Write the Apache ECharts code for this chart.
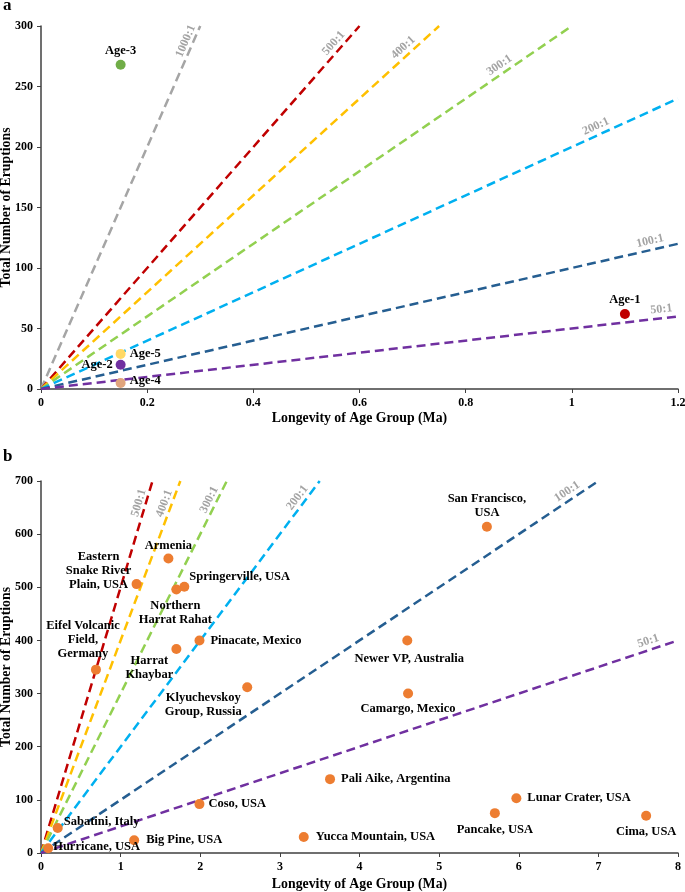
<!DOCTYPE html>
<html>
<head>
<meta charset="utf-8">
<script src="https://cdn.jsdelivr.net/npm/echarts@6/dist/echarts.min.js"></script>
<style>
  html, body { margin: 0; padding: 0; background: #fff; }
  #main { width: 685px; height: 892px; }
</style>
</head>
<body>
<div id="main"></div>
<script>
// ---- data ----
var ratiosA = [1000, 500, 400, 300, 200, 100, 50];
var ratioEndA = [0.3, 0.6, 0.75, 1.0, 1.2, 1.2, 1.2];
var ratiosB = [500, 400, 300, 200, 100, 50];
var ratioEndB = [1.4, 1.75, 2.333, 3.5, 7, 8];

var ageNames = ["Age-1", "Age-2", "Age-3", "Age-4", "Age-5"];
var ageLongevity = [1.1, 0.15, 0.15, 0.15, 0.15];
var ageEruptions = [62, 20, 268, 5, 29];

var fieldNames = [
  "Armenia", "Eastern\nSnake River\nPlain, USA", "Springerville, USA",
  "Northern\nHarrat Rahat", "Pinacate, Mexico", "Harrat\nKhaybar",
  "Eifel Volcanic\nField,\nGermany", "Klyuchevskoy\nGroup, Russia",
  "Sabatini, Italy", "Hurricane, USA", "Big Pine, USA", "Coso, USA",
  "Yucca Mountain, USA", "Pali Aike, Argentina", "San Francisco,\nUSA",
  "Newer VP, Australia", "Camargo, Mexico", "Lunar Crater, USA",
  "Pancake, USA", "Cima, USA"
];
var fieldLongevity = [1.6, 1.2, 1.8, 1.7, 1.99, 1.7, 0.69, 2.59, 0.21, 0.09,
  1.17, 1.99, 3.3, 3.63, 5.6, 4.6, 4.61, 5.97, 5.7, 7.6];
var fieldEruptions = [554, 506, 501, 496, 400, 384, 345, 312, 47, 9,
  24, 92, 30, 139, 614, 400, 300, 103, 75, 70];

// ---- layout / style ----
var FONT = "Liberation Serif";
var ratioColors = {
  1000: "#A5A5A5", 500: "#C00000", 400: "#FFC000", 300: "#92D050",
  200: "#00B0F0", 100: "#255E91", 50: "#7030A0"
};
var ageColors = ["#C00000", "#7030A0", "#70AD47", "#E0A47C", "#FFD966"];
var ratioLabelXA = [0.283, 0.56, 0.69, 0.87, 1.05, 1.15, 1.17];
var ratioLabelXB = [1.3, 1.62, 2.18, 3.28, 6.65, 7.65];

var gridA = { left: 41, right: 7, top: 26, height: 363, xMax: 1.2, yMax: 300 };
var gridB = { left: 41, right: 7, top: 481, height: 372, xMax: 8, yMax: 700 };

var ageLabel = [
  { position: "top", distance: 2 },
  { position: "left", distance: 3 },
  { position: "top", distance: 2 },
  { position: "right", distance: 4, offset: [0, -2] },
  { position: "right", distance: 4 }
];
var fieldLabel = [
  { position: "top", distance: 1 },
  { position: "inside", align: "center", offset: [-38, -13] },
  { position: "right", distance: 0, offset: [0, -10] },
  { position: "inside", align: "center", offset: [-1, 23] },
  { position: "right", distance: 6 },
  { position: "inside", align: "center", offset: [-27, 19] },
  { position: "inside", align: "center", offset: [-13, -30] },
  { position: "inside", align: "center", offset: [-44, 18] },
  { position: "right", distance: 1, offset: [0, -6] },
  { position: "right", distance: 0, offset: [0, -1] },
  { position: "right", distance: 7 },
  { position: "right", distance: 4 },
  { position: "right", distance: 7 },
  { position: "right", distance: 6 },
  { position: "inside", align: "center", offset: [0, -21] },
  { position: "inside", align: "center", offset: [2, 18] },
  { position: "inside", align: "center", offset: [0, 15] },
  { position: "right", distance: 6 },
  { position: "inside", align: "center", offset: [0, 17] },
  { position: "inside", align: "center", offset: [0, 16] }
];

var plotW = 685 - 41 - 7;

function lineAngle(k, g) {
  var s = k * (g.height / g.yMax) / (plotW / g.xMax);
  return Math.atan(s) * 180 / Math.PI;
}

var series = [];

function addRatios(ratios, ends, labelX, g, idx) {
  ratios.forEach(function(k, i) {
    series.push({
      type: "line",
      xAxisIndex: idx, yAxisIndex: idx,
      data: [[0, 0], [ends[i], k * ends[i]]],
      symbol: "none",
      z: 2,
      lineStyle: { color: ratioColors[k], width: 2.5, type: [9, 5] }
    });
    series.push({
      type: "scatter",
      xAxisIndex: idx, yAxisIndex: idx,
      data: [[labelX[i], k * labelX[i]]],
      symbolSize: 0,
      z: 3,
      label: {
        show: true,
        position: "top",
        distance: 3,
        rotate: lineAngle(k, g),
        formatter: k + ":1",
        fontFamily: FONT, fontWeight: "bold", fontSize: 12, color: "#8C8C8C"
      }
    });
  });
}
addRatios(ratiosA, ratioEndA, ratioLabelXA, gridA, 0);
addRatios(ratiosB, ratioEndB, ratioLabelXB, gridB, 1);

var labelText = { fontFamily: FONT, fontWeight: "bold", fontSize: 12.5, color: "#000", lineHeight: 14 };

series.push({
  type: "scatter",
  xAxisIndex: 0, yAxisIndex: 0,
  symbolSize: 10,
  z: 5,
  data: ageNames.map(function(n, i) {
    return {
      name: n,
      value: [ageLongevity[i], ageEruptions[i]],
      itemStyle: { color: ageColors[i], opacity: 1 },
      label: Object.assign({ show: true, formatter: n }, labelText, ageLabel[i])
    };
  })
});

series.push({
  type: "scatter",
  xAxisIndex: 1, yAxisIndex: 1,
  symbolSize: 10,
  z: 5,
  itemStyle: { color: "#ED7D31", opacity: 1 },
  data: fieldNames.map(function(n, i) {
    return {
      name: n,
      value: [fieldLongevity[i], fieldEruptions[i]],
      label: Object.assign({ show: true, formatter: n }, labelText, fieldLabel[i])
    };
  })
});

function xAxis(g, idx, interval, gap) {
  return {
    type: "value", gridIndex: idx, min: 0, max: g.xMax, interval: interval,
    name: "Longevity of Age Group (Ma)", nameLocation: "middle", nameGap: gap,
    nameMoveOverlap: false,
    nameTextStyle: { fontFamily: FONT, fontWeight: "bold", fontSize: 13.8, color: "#000" },
    axisLine: { lineStyle: { color: "#404040", width: 1.5 } },
    axisTick: { show: true, length: 4, lineStyle: { color: "#404040" } },
    axisLabel: { fontFamily: FONT, fontWeight: "bold", fontSize: 12, color: "#000", margin: 8 },
    splitLine: { show: false }
  };
}
function yAxis(g, idx, interval) {
  return {
    type: "value", gridIndex: idx, min: 0, max: g.yMax, interval: interval,
    name: "Total Number of Eruptions", nameLocation: "middle", nameGap: 28,
    nameMoveOverlap: false,
    nameTextStyle: { fontFamily: FONT, fontWeight: "bold", fontSize: 13.8, color: "#000" },
    axisLine: { show: true, lineStyle: { color: "#404040", width: 1.5 } },
    axisTick: { show: true, length: 4, lineStyle: { color: "#404040" } },
    axisLabel: { fontFamily: FONT, fontWeight: "bold", fontSize: 12, color: "#000", margin: 8 },
    splitLine: { show: false }
  };
}

var chart = echarts.init(document.getElementById("main"));
chart.setOption({
  animation: false,
  backgroundColor: "#fff",
  title: [
    { text: "a", left: 3, top: -3, padding: 0, textStyle: { fontFamily: FONT, fontWeight: "bold", fontSize: 17, color: "#000" } },
    { text: "b", left: 3, top: 448, padding: 0, textStyle: { fontFamily: FONT, fontWeight: "bold", fontSize: 17, color: "#000" } }
  ],
  grid: [
    { left: gridA.left, right: gridA.right, top: gridA.top, height: gridA.height, containLabel: false, outerBoundsMode: "none" },
    { left: gridB.left, right: gridB.right, top: gridB.top, height: gridB.height, containLabel: false, outerBoundsMode: "none" }
  ],
  xAxis: [xAxis(gridA, 0, 0.2, 22), xAxis(gridB, 1, 1, 24)],
  yAxis: [yAxis(gridA, 0, 50), yAxis(gridB, 1, 100)],
  series: series
});
</script>
</body>
</html>
